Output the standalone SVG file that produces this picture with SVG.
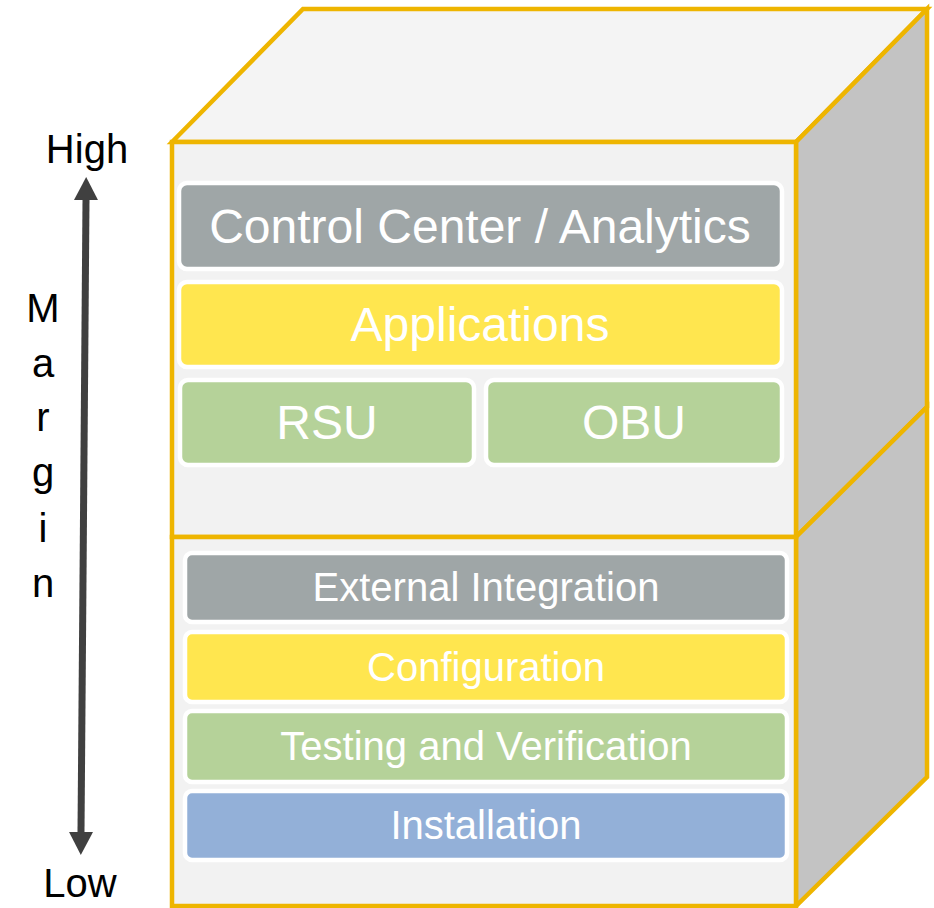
<svg xmlns="http://www.w3.org/2000/svg" width="934" height="908" viewBox="0 0 934 908">
<style>
.edge{stroke:#EEB500;stroke-width:4.5;stroke-linejoin:miter}
.front{fill:#F2F2F2}
.top{fill:#F4F4F4}
.side{fill:#C3C3C3}
.box{stroke:#FFFFFF;stroke-width:4.5}
.gray{fill:#9FA6A7}
.yellow{fill:#FFE64F}
.green{fill:#B5D299}
.blue{fill:#93B0D8}
.lbl{font-family:"Liberation Sans",Arial,sans-serif;fill:#FFFFFF;text-anchor:middle}
.big{font-size:48px}
.small{font-size:40px}
.axis{font-family:"Liberation Sans",Arial,sans-serif;fill:#000000;text-anchor:middle;font-size:40px}
</style>
<defs>
<marker id="ah" markerUnits="userSpaceOnUse" markerWidth="24" markerHeight="24" refX="0" refY="12" orient="auto-start-reverse" viewBox="0 0 24 24">
<path d="M0,0 L23,12 L0,24 Z" fill="#404040"/>
</marker>
</defs>
<g id="cube">
<polygon class="top edge" points="172,142 303,9 927,9 796,142"/>
<polygon class="side edge" points="796,142 927,9 927,407 796,537"/>
<polygon class="side edge" points="796,537 927,407 927,777 796,906"/>
<rect class="front edge" x="172" y="142" width="624" height="395"/>
<rect class="front edge" x="172" y="537" width="624" height="369"/>
</g>
<g id="control-center">
<rect class="box gray" x="179" y="183" width="603" height="86" rx="8"/>
<text class="lbl big" x="480" y="243">Control Center / Analytics</text>
</g>
<g id="applications">
<rect class="box yellow" x="179" y="282" width="603" height="85" rx="8"/>
<text class="lbl big" x="480" y="341">Applications</text>
</g>
<g id="rsu">
<rect class="box green" x="180" y="380" width="294" height="85" rx="8"/>
<text class="lbl big" x="327" y="439">RSU</text>
</g>
<g id="obu">
<rect class="box green" x="486" y="380" width="296" height="85" rx="8"/>
<text class="lbl big" x="634" y="439">OBU</text>
</g>
<g id="external-integration">
<rect class="box gray" x="185" y="553" width="602" height="69" rx="7"/>
<text class="lbl small" x="486" y="601">External Integration</text>
</g>
<g id="configuration">
<rect class="box yellow" x="185" y="632" width="602" height="70" rx="7"/>
<text class="lbl small" x="486" y="681">Configuration</text>
</g>
<g id="testing">
<rect class="box green" x="185" y="711" width="602" height="71" rx="7"/>
<text class="lbl small" x="486" y="760">Testing and Verification</text>
</g>
<g id="installation">
<rect class="box blue" x="185" y="791" width="602" height="69" rx="7"/>
<text class="lbl small" x="486" y="839">Installation</text>
</g>
<g id="connectors">
<line x1="86" y1="200" x2="81" y2="832" stroke="#404040" stroke-width="7" marker-start="url(#ah)" marker-end="url(#ah)"/>
</g>
<g id="axis-labels">
<text class="axis" x="87" y="163">High</text>
<text class="axis" x="80" y="897">Low</text>
<text class="axis" x="43" y="322">M</text>
<text class="axis" x="43" y="377">a</text>
<text class="axis" x="43" y="431">r</text>
<text class="axis" x="43" y="486">g</text>
<text class="axis" x="43" y="542">i</text>
<text class="axis" x="43" y="597">n</text>
</g>
</svg>
